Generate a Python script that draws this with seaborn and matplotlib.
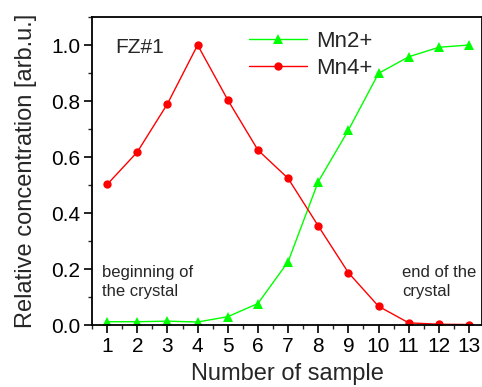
import numpy as np
import pandas as pd
import matplotlib
matplotlib.use("Agg")
import matplotlib.pyplot as plt
from matplotlib.ticker import MultipleLocator, FormatStrFormatter
import seaborn as sns

samples = list(range(1, 14))
mn2 = [0.012, 0.012, 0.014, 0.011, 0.030, 0.077, 0.226, 0.512, 0.696, 0.899, 0.958, 0.992, 1.000]
mn4 = [0.502, 0.618, 0.790, 1.000, 0.804, 0.625, 0.524, 0.354, 0.187, 0.067, 0.008, 0.003, 0.002]
series_names = ["Mn2+", "Mn4+"]

df = pd.DataFrame({
    "sample": samples * 2,
    "value": mn2 + mn4,
    "ion": [series_names[0]] * len(samples) + [series_names[1]] * len(samples),
})

sns.set_style("ticks")
plt.rcParams["font.family"] = ["Liberation Sans", "DejaVu Sans"]

fig = plt.figure(figsize=(4.82, 3.87), dpi=100)
ax = fig.add_axes([0.191, 0.160, 0.809, 0.796])

palette = {"Mn2+": "#00ff00", "Mn4+": "#ff0000"}
markers = {"Mn2+": "^", "Mn4+": "o"}
sns.lineplot(data=df, x="sample", y="value", hue="ion", style="ion",
             palette=palette, markers=markers, dashes=False,
             markersize=6, markeredgewidth=0, linewidth=1.0, ax=ax)

# triangles a touch larger than the circles
MARKER_SIZES = {"^": 7.2, "o": 6}
for ln in ax.lines:
    if ln.get_marker() in MARKER_SIZES:
        ln.set_markersize(MARKER_SIZES[ln.get_marker()])

ax.set_xlim(0.5, 13.43)
ax.set_ylim(0, 1.1)
ax.xaxis.set_major_locator(MultipleLocator(1))
ax.xaxis.set_minor_locator(MultipleLocator(0.5))
ax.yaxis.set_major_locator(MultipleLocator(0.2))
ax.yaxis.set_minor_locator(MultipleLocator(0.1))
ax.yaxis.set_major_formatter(FormatStrFormatter("%.1f"))
ax.tick_params(which="major", direction="out", length=5.5, width=1.2, labelsize=15,
               colors="black", pad=3)
ax.tick_params(which="minor", direction="out", length=3, width=1.0)
for s in ax.spines.values():
    s.set_linewidth(1.3)
    s.set_color("black")

ax.set_xlabel("Number of sample", fontsize=17, labelpad=5)
ax.set_ylabel("Relative concentration [arb.u.]", fontsize=17, labelpad=10)

leg = ax.legend(loc="upper left", bbox_to_anchor=(0.38, 0.985), frameon=False,
                fontsize=16, handlelength=2.6, handletextpad=0.4, labelspacing=0.3,
                borderaxespad=0)
for h in leg.legend_handles:
    if h.get_marker() in MARKER_SIZES:
        h.set_markersize(MARKER_SIZES[h.get_marker()])

ax.text(0.06, 0.90, "FZ#1", transform=ax.transAxes, fontsize=15, va="center")
ax.text(0.025, 0.14, "beginning of\nthe crystal", transform=ax.transAxes, fontsize=12,
        va="center", linespacing=1.3)
ax.text(0.795, 0.14, "end of the\ncrystal", transform=ax.transAxes, fontsize=12,
        va="center", linespacing=1.3)

fig.savefig("out.png", dpi=100)
